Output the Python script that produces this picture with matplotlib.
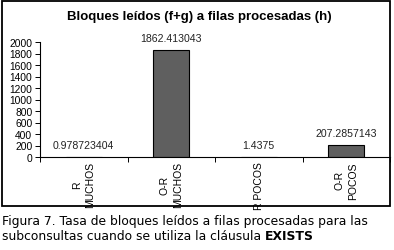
import matplotlib
matplotlib.use("Agg")
import matplotlib.pyplot as plt
from matplotlib.patches import Rectangle

categories = ["R\nMUCHOS", "O-R\nMUCHOS", "R POCOS", "O-R\nPOCOS"]
values = [0.978723404, 1862.413043, 1.4375, 207.2857143]
yticks = [0, 200, 400, 600, 800, 1000, 1200, 1400, 1600, 1800, 2000]
title = "Bloques leídos (f+g) a filas procesadas (h)"
caption1 = "Figura 7. Tasa de bloques leídos a filas procesadas para las"
caption2 = "subconsultas cuando se utiliza la cláusula "
caption_bold = "EXISTS"

W, H = 394, 251
fig = plt.figure(figsize=(W / 100, H / 100), dpi=100)
fig.patch.set_facecolor("white")

font = "Liberation Sans"
ax = fig.add_axes([40 / W, (H - 158) / H, 350 / W, 115 / H])
x = list(range(len(categories)))
ax.bar(x, values, width=0.41, color="#5f5f5f", edgecolor="black", linewidth=0.8, zorder=2)
ax.set_xlim(-0.5, 3.4)
ax.set_ylim(0, 2000)
ax.set_yticks(yticks)
ax.set_yticklabels([str(t) for t in yticks], fontsize=7.4, family=font)
ax.tick_params(axis="y", direction="out", length=3.5, width=0.7, pad=2)
ax.set_xticks(x)
ax.set_xticklabels(categories, rotation=90, fontsize=7.5, family=font,
                   ha="center", va="top", multialignment="center", linespacing=1.4)
ax.tick_params(axis="x", which="major", length=0, pad=3)
ax.set_xticks([-0.5, 0.5, 1.5, 2.5, 3.5], minor=True)
ax.tick_params(axis="x", which="minor", direction="out", length=3.5, width=0.7)
for s in ["top", "right"]:
    ax.spines[s].set_visible(False)
for s in ["left", "bottom"]:
    ax.spines[s].set_linewidth(0.8)

for i, v in enumerate(values):
    ax.annotate(str(v), (i, v), xytext=(0, 8.5), textcoords="offset points",
                ha="center", va="center", fontsize=7.6, family=font, color="#222222")

fig.text(199 / W, (H - 17) / H, title, ha="center", va="center",
         fontsize=9.5, fontweight="bold", family=font)

fig.patches.append(Rectangle((2 / W, (H - 207) / H), 388 / W, 205 / H, fill=False,
                             edgecolor="black", linewidth=1.3, transform=fig.transFigure,
                             zorder=10))

cfont = "DejaVu Sans"
t1 = fig.text(2 / W, (H - 225) / H, caption1, ha="left", va="baseline",
              fontsize=8.9, family=cfont)
t2 = fig.text(2 / W, (H - 240) / H, caption2, ha="left", va="baseline",
              fontsize=8.9, family=cfont)
fig.canvas.draw()
bb = t2.get_window_extent()
fig.text(bb.x1 / W, (H - 240) / H, caption_bold, ha="left", va="baseline",
         fontsize=8.9, family=cfont, fontweight="bold")

fig.savefig("out.png", dpi=100)
